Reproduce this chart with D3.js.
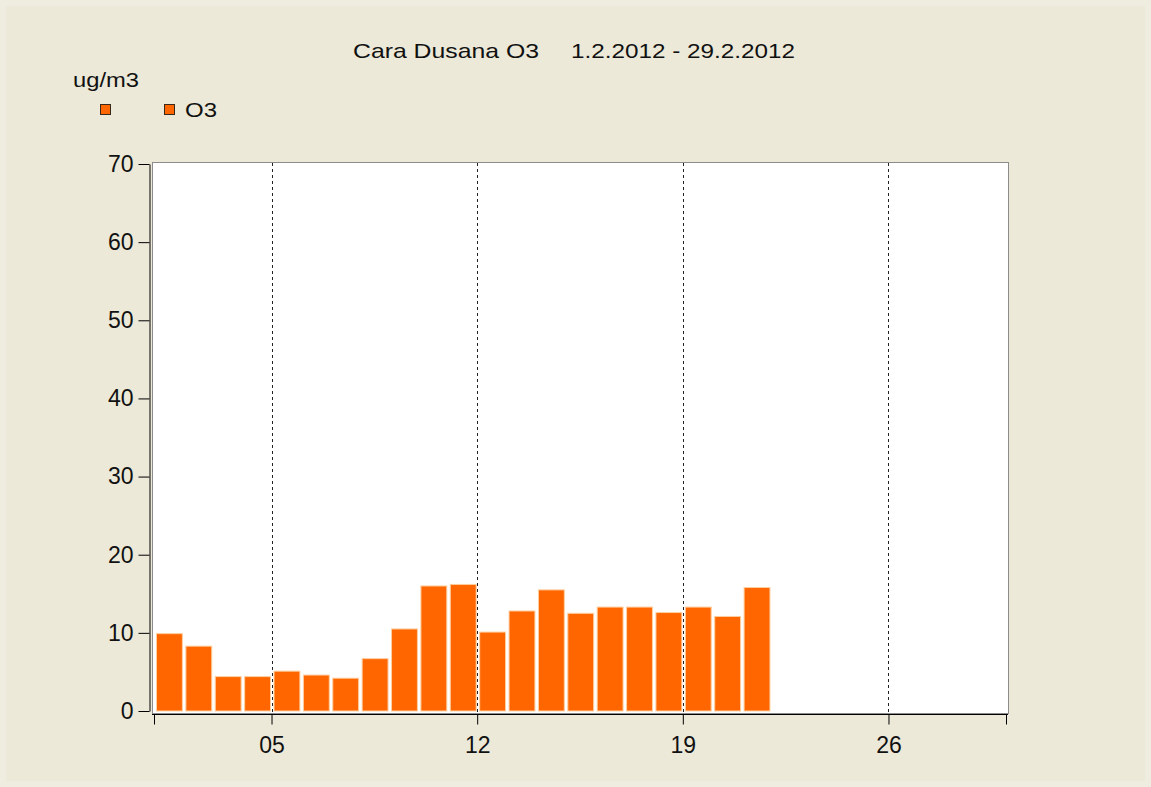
<!DOCTYPE html>
<html>
<head>
<meta charset="utf-8">
<script src="https://cdn.jsdelivr.net/npm/d3@7"></script>
<style>
    body { margin: 0; background: #ece9d8; }
    svg { display: block; font-family: "Liberation Sans", Arial, sans-serif; }
</style>
</head>
<body>
<svg id="chart" width="1151" height="787"></svg>
<script>
// daily O3 averages, February 2012 (days 1..21 have data)
const days = [1, 2, 3, 4, 5, 6, 7, 8, 9, 10, 11, 12, 13, 14, 15, 16, 17, 18, 19, 20, 21];
const values = [9.9, 8.3, 4.4, 4.4, 5.1, 4.6, 4.2, 6.7, 10.5, 16.0, 16.2, 10.1, 12.8, 15.5, 12.5, 13.3, 13.3, 12.6, 13.3, 12.1, 15.8];
const gridDays = [5, 12, 19, 26];
const tickLabels = ['05', '12', '19', '26'];
const yTicks = [0, 10, 20, 30, 40, 50, 60, 70];
const titleParts = ['Cara Dusana O3', '1.2.2012 - 29.2.2012'];
const unitLabel = 'ug/m3';
const seriesName = 'O3';

const colors = {
    bg: '#ece9d8',
    bgEdge: '#efede0',
    bar: '#ff6600',
    barEdge: '#ffcf9f',
    frame: '#8c8c8c',
    text: '#111111'
};

const svg = d3.select('#chart');

const day = d => new Date(2012, 1, d);

const x = d3.scaleTime()
    .domain([day(1), day(30)])   // 1.2. .. 1.3.
    .range([154, 1006]);

const y = d3.scaleLinear()
    .domain([0, 70])
    .range([711, 164]);

// background
svg.append('rect')
    .attr('width', 1151).attr('height', 787)
    .attr('fill', colors.bgEdge);
svg.append('rect')
    .attr('x', 6).attr('y', 6)
    .attr('width', 1139).attr('height', 775)
    .attr('fill', colors.bg);

// plot area
svg.append('rect')
    .attr('x', 152.5).attr('y', 162.5)
    .attr('width', 856).attr('height', 551)
    .attr('fill', '#fff')
    .attr('stroke', colors.frame);

// dashed day gridlines
svg.append('g')
    .selectAll('line')
    .data(gridDays)
    .join('line')
    .attr('x1', d => Math.round(x(day(d))) + 0.5)
    .attr('x2', d => Math.round(x(day(d))) + 0.5)
    .attr('y1', 163)
    .attr('y2', 713)
    .attr('stroke', '#222')
    .attr('stroke-dasharray', '3,3');

// bars
svg.append('g')
    .selectAll('rect')
    .data(days)
    .join('rect')
    .attr('x', (d, i) => x(day(d)) + 2.5)
    .attr('width', d => x(day(d + 1)) - x(day(d)) - 3.5)
    .attr('y', (d, i) => y(values[i]))
    .attr('height', (d, i) => y(0) - y(values[i]))
    .attr('fill', colors.bar)
    .attr('stroke', colors.barEdge)
    .attr('stroke-width', 1);

// y axis
const yAxis = svg.append('g')
    .attr('transform', 'translate(149.5,0)')
    .call(d3.axisLeft(y).tickValues(yTicks).tickSize(11).tickPadding(5).tickSizeOuter(0));

yAxis.selectAll('text')
    .style('font-size', '23px')
    .attr('fill', colors.text);

// x axis
const xTickDates = [day(1)].concat(gridDays.map(day), [day(30)]);
const xAxis = svg.append('g')
    .attr('transform', 'translate(0,714.5)')
    .call(d3.axisBottom(x)
        .tickValues(xTickDates)
        .tickFormat((d, i) => i === 0 || i === xTickDates.length - 1 ? '' : tickLabels[i - 1])
        .tickSize(10).tickPadding(12).tickSizeOuter(0));

xAxis.select('.domain').attr('d', 'M152,0H1008');
xAxis.selectAll('text')
    .style('font-size', '23px')
    .attr('fill', colors.text);

// title
svg.append('text')
    .attr('x', 353).attr('y', 58)
    .attr('textLength', 186)
    .attr('lengthAdjust', 'spacingAndGlyphs')
    .style('font-size', '21px')
    .attr('fill', colors.text)
    .text(titleParts[0]);

svg.append('text')
    .attr('x', 571).attr('y', 58)
    .attr('textLength', 224)
    .attr('lengthAdjust', 'spacingAndGlyphs')
    .style('font-size', '21px')
    .attr('fill', colors.text)
    .text(titleParts[1]);

// legend
svg.append('text')
    .attr('x', 73).attr('y', 87)
    .attr('textLength', 66)
    .attr('lengthAdjust', 'spacingAndGlyphs')
    .style('font-size', '20px')
    .attr('fill', colors.text)
    .text(unitLabel);

svg.append('g')
    .selectAll('rect')
    .data([100, 164])
    .join('rect')
    .attr('x', d => d + 0.5)
    .attr('y', 104.5)
    .attr('width', 10).attr('height', 10)
    .attr('fill', colors.bar)
    .attr('stroke', '#3a2a1a');

svg.append('text')
    .attr('x', 185).attr('y', 117)
    .attr('textLength', 32)
    .attr('lengthAdjust', 'spacingAndGlyphs')
    .style('font-size', '21px')
    .attr('fill', colors.text)
    .text(seriesName);
</script>
</body>
</html>
